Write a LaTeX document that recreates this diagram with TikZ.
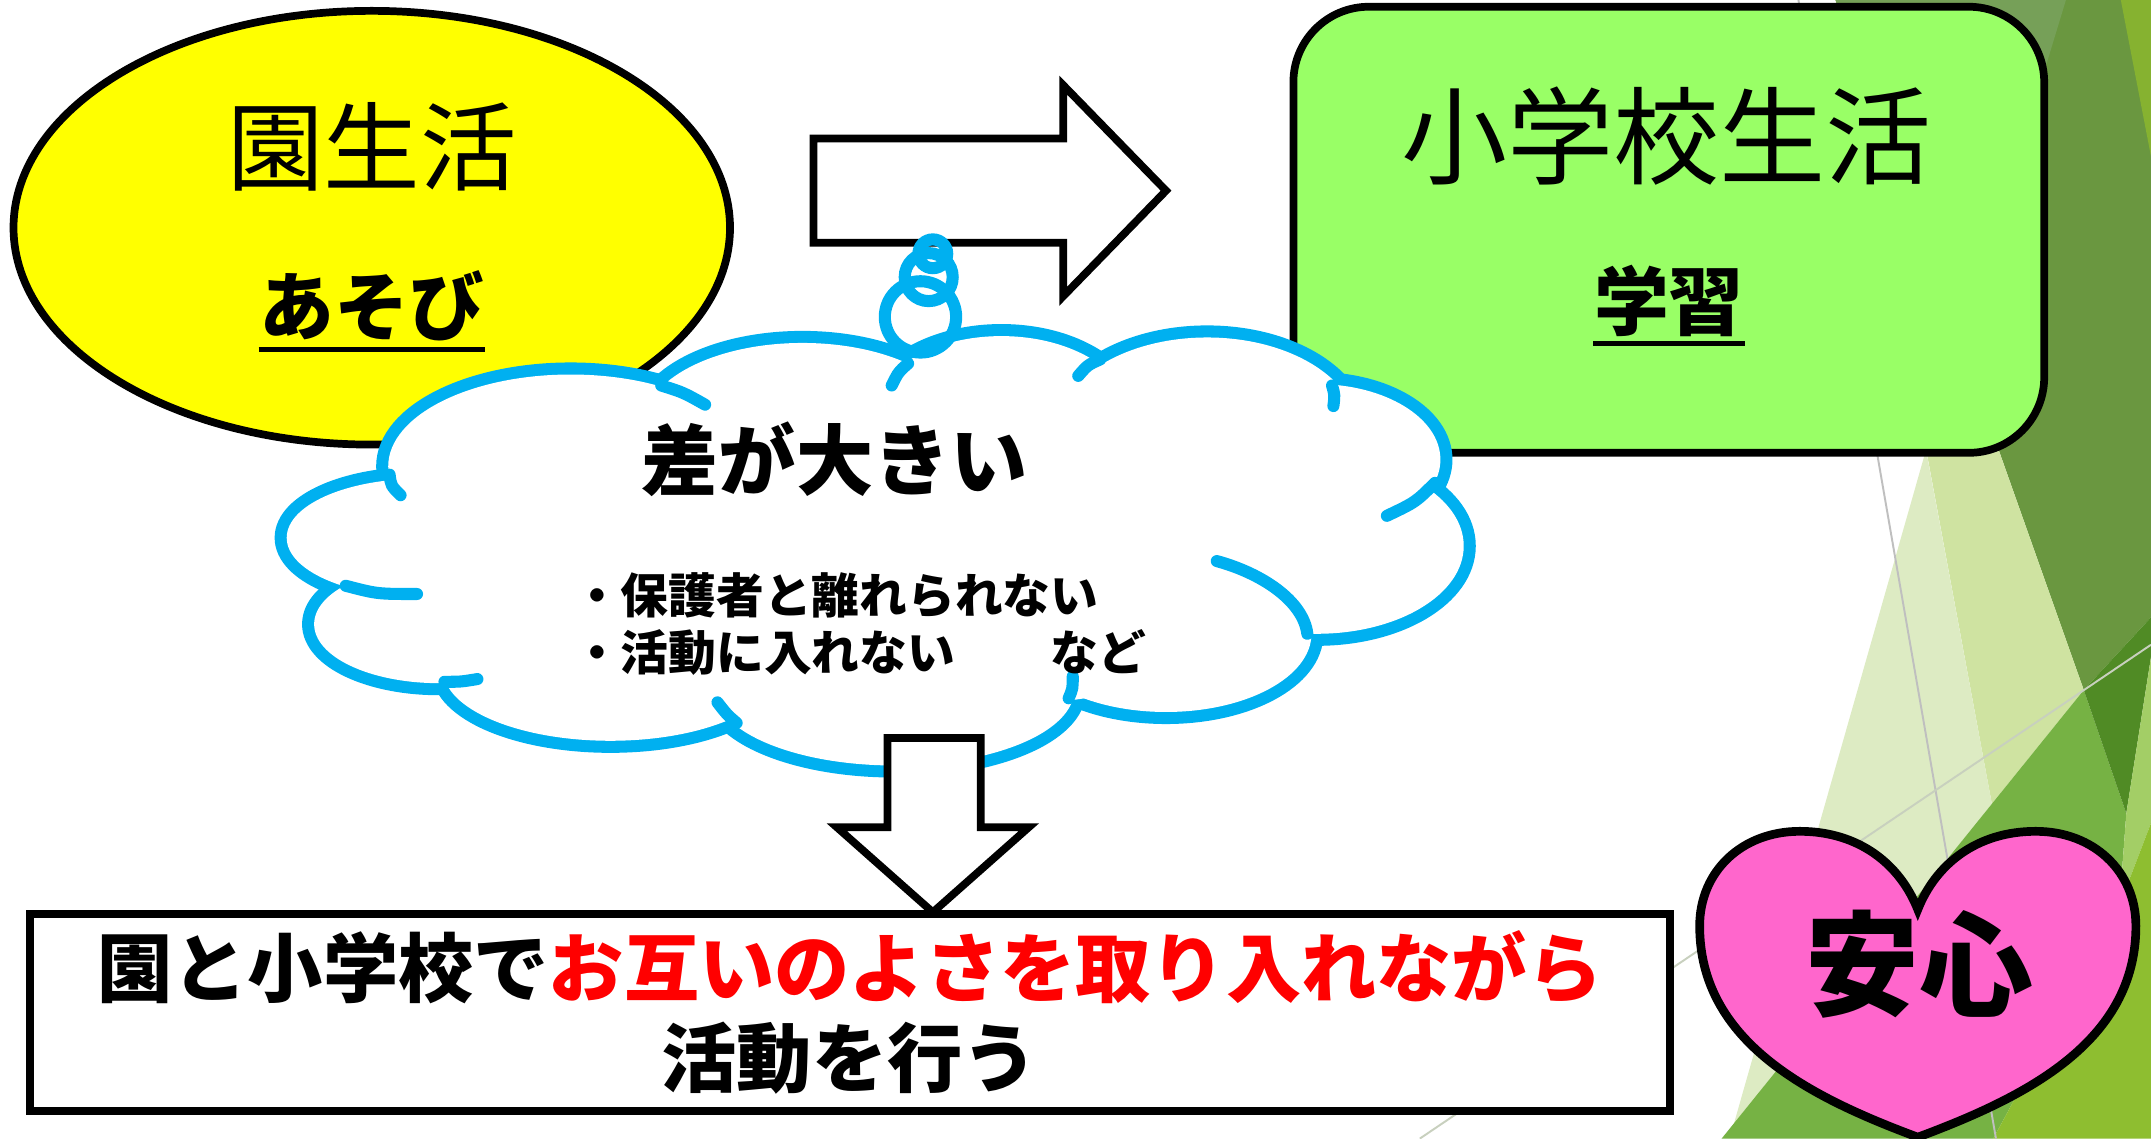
\documentclass[tikz,border=0pt]{standalone}
\usepackage{fontspec}
\usepackage{tikz}
\usepackage{xcolor}
\usetikzlibrary{shapes.geometric}
\newfontfamily\jp{Noto Sans CJK JP}

\definecolor{enyellow}{HTML}{FFFF00}
\definecolor{schoolgreen}{HTML}{99FF66}
\definecolor{cloudblue}{HTML}{00B0F0}
\definecolor{heartpink}{HTML}{FF66CC}
\definecolor{facetdark}{RGB}{106,151,64}
\definecolor{facettop}{RGB}{118,160,88}
\definecolor{facetlime}{RGB}{134,178,48}
\definecolor{facetpale}{RGB}{221,235,195}
\definecolor{facetlight}{RGB}{207,227,161}
\definecolor{facetdeep}{RGB}{80,139,37}
\definecolor{facetmid}{RGB}{118,178,68}
\definecolor{facetstrip}{RGB}{163,206,102}
\definecolor{facetyg}{RGB}{142,190,48}
\definecolor{facetline}{RGB}{200,208,190}

\begin{document}
\begin{tikzpicture}[x=0.01cm, y=-0.01cm,
    blackline/.style={draw=black, line width=1.6pt},
    cloudline/.style={draw=cloudblue, line width=2.5pt, line cap=round},
    ulline/.style={draw=black, line width=1pt},
    lifetitle/.style={inner sep=0pt, font=\jp\fontsize{20}{24}\selectfont},
    keyword/.style={inner sep=0pt, font=\jp\bfseries\fontsize{15.5}{18}\selectfont},
    cloudtitle/.style={inner sep=0pt, font=\jp\bfseries\fontsize{16}{19}\selectfont},
    cloudnote/.style={inner sep=0pt, align=left, font=\jp\bfseries\fontsize{9.9}{11.95}\selectfont},
    goaltext/.style={align=center, font=\jp\bfseries\fontsize{15.6}{18.8}\selectfont},
    anshin/.style={inner sep=0pt, font=\jp\bfseries\fontsize{23.6}{28}\selectfont}]
    \useasboundingbox (0,0) rectangle (1568,830);
    \fill[white] (0,0) rectangle (1568,830);

    % facet background
    \fill[facetdark] (1338,0) -- (1568,0) -- (1568,450) -- (1519,503) -- (1457,328) -- cycle;
    \fill[facettop] (1338,0) -- (1506,0) -- (1430,250) -- cycle;
    \fill[facetlime] (1546,0) -- (1568,0) -- (1568,114) -- cycle;
    \fill[facetlight] (1399,300) -- (1447,300) -- (1519,503) -- (1452,586) -- cycle;
    \fill[facetpale] (1404,328) -- (1452,586) -- (1264,819) -- cycle;
    \fill[facetmid] (1519,503) -- (1550,593) -- (1545,660) -- (1453,830) -- (1255,830) -- cycle;
    \fill[facetdeep] (1519,503) -- (1568,450) -- (1568,479) -- (1550,593) -- cycle;
    \fill[facetstrip] (1568,479) -- (1568,600) -- (1545,660) -- (1550,593) -- cycle;
    \fill[facetyg] (1568,600) -- (1568,830) -- (1453,830) -- (1545,660) -- cycle;
    \draw[gray!50, line width=0.4pt] (1311,0) -- (1455,830);
    \draw[facetline, line width=0.4pt] (1035,830) -- (1568,470);

    % kindergarten
    \node[ellipse, blackline, fill=enyellow, minimum width=5.22cm, minimum height=3.16cm, inner sep=0pt] (en) at (271,166) {};
    \node[lifetitle] (enTitle) at (271,107) {園生活};
    \node[keyword] (asobi) at (271,223) {あそび};
    \draw[ulline] ([yshift=-1.5pt]asobi.south west) -- ([yshift=-1.5pt]asobi.south east);

    \draw[blackline, fill=white] (593,101) -- (775,101) -- (775,62) -- (850,139) -- (775,216) -- (775,177) -- (593,177) -- cycle;

    % school
    \node[blackline, fill=schoolgreen, rounded corners=0.55cm, minimum width=5.47cm, minimum height=3.25cm] (school) at (1216.5,167.5) {};
    \node[lifetitle, font=\jp\fontsize{22}{26}\selectfont] (schoolTitle) at (1215,99) {小学校生活};
    \node[keyword] (gakushu) at (1216.5,219.5) {学習};
    \draw[ulline] ([yshift=-1.2pt]gakushu.south west) -- ([yshift=-1.2pt]gakushu.south east);

    % cloud
    \foreach \lx/\ly/\lrx/\lry in {416/340/133/67, 585/310/116/60, 730/305/95/60, 880/315/110/69, 960/335/90/55, 960/398/107/64, 850/462/106/57, 652/503/131/55, 445/488/122/52, 320/455/91/43, 306/392/97/43}
      \draw[cloudline, line width=5pt] (\lx,\ly) ellipse[x radius=\lrx, y radius=\lry];
    \foreach \lx/\ly/\lrx/\lry in {416/340/133/67, 585/310/116/60, 730/305/95/60, 880/315/110/69, 960/335/90/55, 960/398/107/64, 850/462/106/57, 652/503/131/55, 445/488/122/52, 320/455/91/43, 306/392/97/43}
      \fill[white] (\lx,\ly) ellipse[x radius=\lrx, y radius=\lry];
    \fill[white] (640,400) ellipse[x radius=360, y radius=120];
    \draw[cloudline] (284,346) .. controls (285,354) .. (292,361);
    \draw[cloudline] (482,281) .. controls (498,286) .. (514,295);
    \draw[cloudline] (662,265) .. controls (655,271) .. (650,281);
    \draw[cloudline] (802,262) .. controls (793,266) .. (786,274);
    \draw[cloudline] (971,281) .. controls (973,288) .. (972,296);
    \draw[cloudline] (1046,352) .. controls (1032,366) .. (1011,376);
    \draw[cloudline] (887,409) .. controls (920,418) and (950,438) .. (953,462);
    \draw[cloudline] (779,509) .. controls (782,502) .. (782,493);
    \draw[cloudline] (537,527) .. controls (530,521) .. (523,512);
    \draw[cloudline] (324,497) .. controls (336,497) .. (348,495);
    \draw[cloudline] (252,427) .. controls (275,433) .. (304,433);
    \draw[cloudline] (671,231) circle[radius=26];
    \draw[cloudline] (677,202) circle[radius=17.5];
    \draw[cloudline] (680,185) circle[radius=10.5];
    \node[cloudtitle] (gap) at (608.5,335) {差が大きい};
    \node[cloudnote, anchor=west] (reasons) at (417,455) {・保護者と離れられない\\・活動に入れない　　など};

    \draw[blackline, fill=white] (647,538) -- (715,538) -- (715,603) -- (750,603) -- (680,665) -- (610,603) -- (647,603) -- cycle;

    % goal
    \node[blackline, fill=white, minimum width=11.95cm, minimum height=1.40cm, goaltext] (goal) at (619.5,738)
      {園と小学校で\textcolor{red}{お互いのよさを取り入れながら}\\活動を行う};

    \draw[blackline, line width=1.8pt, fill=heartpink] (1398,663) .. controls (1385,630) and (1355,606) .. (1312,606)
      .. controls (1270,606) and (1239,635) .. (1239,675) .. controls (1239,760) and (1320,800) .. (1398,829)
      .. controls (1476,800) and (1557,760) .. (1557,675) .. controls (1557,635) and (1526,606) .. (1484,606)
      .. controls (1441,606) and (1411,630) .. (1398,663) -- cycle;
    \node[anshin] (relief) at (1399,703) {安心};
\end{tikzpicture}
\end{document}
